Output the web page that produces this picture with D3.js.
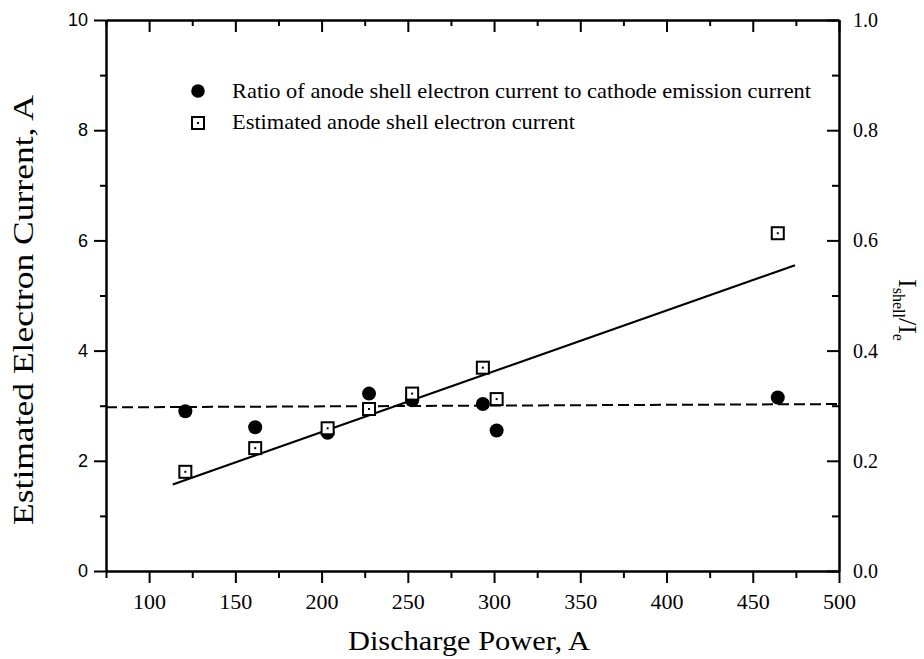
<!DOCTYPE html>
<html>
<head>
<meta charset="utf-8">
<script src="https://cdn.jsdelivr.net/npm/d3@7"></script>
<style>
  body { margin: 0; background: #fff; }
  svg { display: block; }
</style>
</head>
<body>
<div id="chart"></div>
<script>
// data
var power   = [121, 161.5, 203.5, 227.5, 252.5, 293.5, 301.5, 464.5];
var ratio   = [0.290, 0.261, 0.251, 0.322, 0.310, 0.303, 0.255, 0.315];   // right axis
var current = [1.80, 2.23, 2.59, 2.94, 3.22, 3.69, 3.12, 6.13];            // left axis
var fitX  = [113.7, 474.5], fitY  = [1.57, 5.55];      // solid linear fit (left axis)
var meanX = [75, 500],      meanY = [0.297, 0.303];    // dashed mean (right axis)

var xMajor = [100, 150, 200, 250, 300, 350, 400, 450, 500];
var xMinor = [75, 125, 175, 225, 275, 325, 375, 425, 475];
var yMajor = [0, 2, 4, 6, 8, 10];
var yMinor = [1, 3, 5, 7, 9];
var y2Major = [0, 0.2, 0.4, 0.6, 0.8, 1.0];
var y2Minor = [0.1, 0.3, 0.5, 0.7, 0.9];

var legendNames = ["Ratio of anode shell electron current to cathode emission current",
                   "Estimated anode shell electron current"];

var W = 924, H = 659;
var mLeft = 106, mRight = 839, mTop = 20, mBottom = 571;
var serif = "'Liberation Serif', 'Times New Roman', serif";

var svg = d3.select("#chart").append("svg")
  .attr("width", W).attr("height", H);

var x = d3.scaleLinear().domain([75, 500]).range([mLeft, mRight]);
var y = d3.scaleLinear().domain([0, 10]).range([mBottom, mTop]);
var y2 = d3.scaleLinear().domain([0, 1]).range([mBottom, mTop]);

function styleAxis(g) {
  g.select(".domain").attr("stroke", "#000").attr("stroke-width", 2);
  g.selectAll(".tick line").attr("stroke", "#000").attr("stroke-width", 2);
}

// ---- axes ----
// bottom
svg.append("g").attr("transform", "translate(0," + mBottom + ")")
  .call(d3.axisBottom(x).tickValues(xMinor).tickSize(7).tickSizeOuter(0).tickFormat(""))
  .call(styleAxis);
var gx = svg.append("g").attr("transform", "translate(0," + mBottom + ")")
  .call(d3.axisBottom(x).tickValues(xMajor).tickSize(12).tickSizeOuter(0).tickPadding(10))
  .call(styleAxis);
gx.selectAll("text").attr("font-family", serif).attr("font-size", 22).attr("fill", "#000");

// top (inward ticks)
svg.append("g").attr("transform", "translate(0," + mTop + ")")
  .call(d3.axisTop(x).tickValues(xMinor).tickSize(-6).tickSizeOuter(0).tickFormat(""))
  .call(styleAxis);
svg.append("g").attr("transform", "translate(0," + mTop + ")")
  .call(d3.axisTop(x).tickValues(xMajor).tickSize(-12).tickSizeOuter(0).tickFormat(""))
  .call(styleAxis);

// left
svg.append("g").attr("transform", "translate(" + mLeft + ",0)")
  .call(d3.axisLeft(y).tickValues(yMinor).tickSize(6).tickSizeOuter(0).tickFormat(""))
  .call(styleAxis);
var gy = svg.append("g").attr("transform", "translate(" + mLeft + ",0)")
  .call(d3.axisLeft(y).tickValues(yMajor).tickSize(12).tickSizeOuter(0).tickPadding(6))
  .call(styleAxis);
gy.selectAll("text").attr("font-family", "'Liberation Sans', Arial, sans-serif")
  .attr("font-size", 18).attr("fill", "#000");

// right (inward ticks, labels outside)
svg.append("g").attr("transform", "translate(" + mRight + ",0)")
  .call(d3.axisRight(y2).tickValues(y2Minor).tickSize(-7).tickSizeOuter(0).tickFormat(""))
  .call(styleAxis);
var gy2 = svg.append("g").attr("transform", "translate(" + mRight + ",0)")
  .call(d3.axisRight(y2).tickValues(y2Major).tickSize(-12).tickSizeOuter(0)
        .tickPadding(14).tickFormat(d3.format(".1f")))
  .call(styleAxis);
gy2.selectAll("text").attr("font-family", serif).attr("font-size", 20).attr("fill", "#000");

// ---- lines ----
var line = d3.line();
svg.append("path")
  .attr("d", line(fitX.map(function (d, i) { return [x(d), y(fitY[i])]; })))
  .attr("stroke", "#000").attr("stroke-width", 2.2).attr("fill", "none");

svg.append("path")
  .attr("d", line(meanX.map(function (d, i) { return [x(d), y2(meanY[i])]; })))
  .attr("stroke", "#000").attr("stroke-width", 2).attr("fill", "none")
  .attr("stroke-dasharray", "11,5");

// ---- markers ----
function square(g, cx, cy) {
  g.append("rect").attr("x", cx - 6).attr("y", cy - 6)
    .attr("width", 12).attr("height", 12)
    .attr("fill", "#fff").attr("stroke", "#000").attr("stroke-width", 2);
  g.append("rect").attr("x", cx - 1).attr("y", cy - 1)
    .attr("width", 2).attr("height", 2).attr("fill", "#000");
}

svg.append("g").selectAll("circle")
  .data(power)
  .join("circle")
    .attr("cx", function (d) { return x(d); })
    .attr("cy", function (d, i) { return y2(ratio[i]); })
    .attr("r", 7)
    .attr("fill", "#000");

var sq = svg.append("g");
power.forEach(function (d, i) { square(sq, x(d), y(current[i])); });

// ---- legend ----
svg.append("circle").attr("cx", 198).attr("cy", 91).attr("r", 6.8).attr("fill", "#000");
square(svg.append("g"), 198, 123);
svg.append("text").attr("x", 232).attr("y", 98)
  .attr("font-family", serif).attr("font-size", 22)
  .attr("textLength", 579).attr("lengthAdjust", "spacingAndGlyphs")
  .text(legendNames[0]);
svg.append("text").attr("x", 232).attr("y", 129)
  .attr("font-family", serif).attr("font-size", 22)
  .attr("textLength", 343).attr("lengthAdjust", "spacingAndGlyphs")
  .text(legendNames[1]);

// ---- titles ----
svg.append("text")
  .attr("x", 469).attr("y", 650)
  .attr("text-anchor", "middle")
  .attr("font-family", serif).attr("font-size", 28)
  .attr("textLength", 242).attr("lengthAdjust", "spacingAndGlyphs")
  .text("Discharge Power, A");

svg.append("text")
  .attr("transform", "translate(33,310) rotate(-90)")
  .attr("text-anchor", "middle")
  .attr("font-family", serif).attr("font-size", 29)
  .attr("textLength", 430).attr("lengthAdjust", "spacingAndGlyphs")
  .text("Estimated Electron Current, A");

var rl = svg.append("text")
  .attr("transform", "translate(899,310) rotate(90)")
  .attr("text-anchor", "middle")
  .attr("font-family", serif).attr("font-size", 26);
rl.append("tspan").text("I");
rl.append("tspan").attr("font-size", 16).attr("dy", 6).text("shell");
rl.append("tspan").attr("dy", -6).text("/");
rl.append("tspan").text("I");
rl.append("tspan").attr("font-size", 16).attr("dy", 6).text("e");
</script>
</body>
</html>
